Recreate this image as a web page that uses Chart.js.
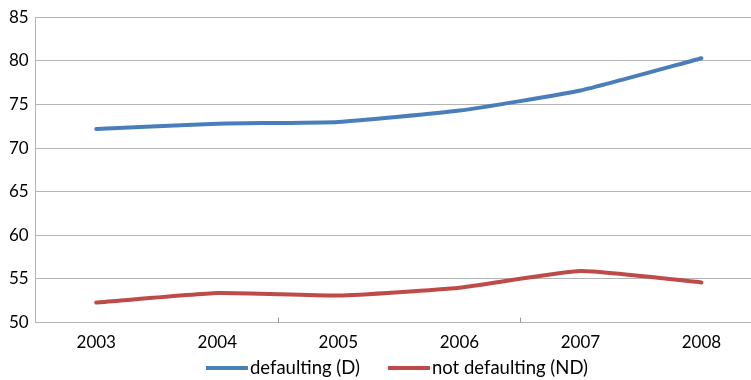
<!DOCTYPE html>
<html>
<head>
<meta charset="utf-8">
<script src="https://cdn.jsdelivr.net/npm/chart.js@4/dist/chart.umd.min.js"></script>
<style>
  html, body { margin: 0; padding: 0; background: #fff; overflow: hidden; width: 751px; height: 380px; }
  canvas { display: block; }
</style>
</head>
<body>
<canvas id="c" width="794" height="380"></canvas>
<script>
const years = ['2003', '2004', '2005', '2006', '2007', '2008'];
const defaulting = [72.2, 72.8, 73.0, 74.3, 76.6, 80.3];
const notDefaulting = [52.3, 53.4, 53.1, 54.0, 55.9, 54.6];
const yTicks = [50, 55, 60, 65, 70, 75, 80, 85];

const gridColor = '#b4b4b4';
const fontFamily = 'Lato, "Open Sans", sans-serif';

// Short inward tick marks on the category axis, every second category boundary
const innerTicks = {
  id: 'innerTicks',
  afterDatasetsDraw(chart) {
    const x = chart.scales.x;
    const ctx = chart.ctx;
    const bottom = chart.chartArea.bottom;
    ctx.save();
    ctx.strokeStyle = '#999';
    ctx.lineWidth = 1;
    for (let i = 2; i < years.length; i += 2) {
      const px = Math.round((x.getPixelForValue(i - 1) + x.getPixelForValue(i)) / 2) + 0.5;
      ctx.beginPath();
      ctx.moveTo(px, bottom);
      ctx.lineTo(px, bottom - 5);
      ctx.stroke();
    }
    ctx.restore();
  }
};

// Compact legend row under the axis: line sample, then the series name
const lineLegend = {
  id: 'lineLegend',
  afterDraw(chart, args, opts) {
    const ctx = chart.ctx;
    const sets = chart.data.datasets;
    ctx.save();
    ctx.font = `${opts.fontSize}px ${fontFamily}`;
    ctx.textBaseline = 'middle';
    ctx.fillStyle = '#000';
    const widths = sets.map(ds => opts.lineLength + opts.textGap + ctx.measureText(ds.label).width);
    const total = widths.reduce((a, b) => a + b, 0) + opts.itemGap * (sets.length - 1);
    let x = chart.width / 2 - total / 2;
    const y = opts.y;
    sets.forEach((ds, i) => {
      ctx.fillStyle = ds.borderColor;
      ctx.fillRect(x, y - 2, opts.lineLength, 4);
      ctx.fillStyle = '#000';
      ctx.fillText(ds.label, x + opts.lineLength + opts.textGap, y);
      x += widths[i] + opts.itemGap;
    });
    ctx.restore();
  }
};

new Chart(document.getElementById('c'), {
  type: 'line',
  data: {
    labels: years,
    datasets: [
      {
        label: 'defaulting (D)',
        data: defaulting,
        borderColor: '#4a7ebb',
        borderWidth: 4,
        pointRadius: 0,
        tension: 0.15,
        borderCapStyle: 'round'
      },
      {
        label: 'not defaulting (ND)',
        data: notDefaulting,
        borderColor: '#be4b48',
        borderWidth: 4,
        pointRadius: 0,
        tension: 0.15,
        borderCapStyle: 'round'
      }
    ]
  },
  options: {
    responsive: false,
    animation: false,
    devicePixelRatio: 1,
    layout: { padding: { top: -2, right: 32, left: 2, bottom: 17 } },
    plugins: {
      tooltip: { enabled: false },
      legend: { display: false },
      lineLegend: { fontSize: 18.5, lineLength: 42, textGap: 2, itemGap: 28, y: 368 }
    },
    scales: {
      x: {
        offset: true,
        grid: { display: false, drawTicks: false },
        border: { color: gridColor, width: 1 },
        ticks: {
          font: { family: fontFamily, size: 17 },
          color: '#000',
          padding: 10,
          maxRotation: 0
        }
      },
      y: {
        min: 50,
        max: 85,
        afterBuildTicks(scale) { scale.ticks = yTicks.map(v => ({ value: v })); },
        grid: { color: gridColor, drawTicks: false },
        border: { color: gridColor, width: 1 },
        ticks: {
          font: { family: fontFamily, size: 17 },
          color: '#000',
          padding: 7
        }
      }
    }
  },
  plugins: [innerTicks, lineLegend]
});
</script>
</body>
</html>
